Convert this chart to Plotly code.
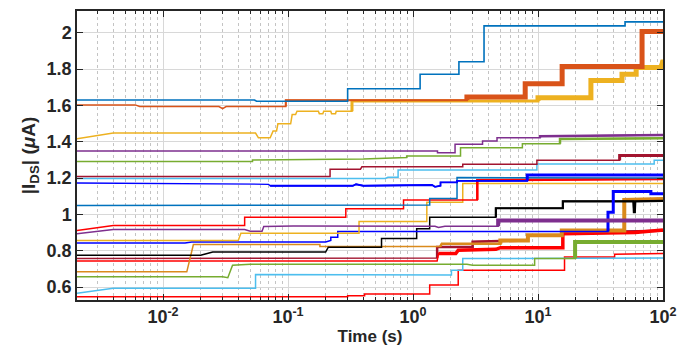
import plotly.graph_objects as go

# ---------------- data (time in s, |I_DS| in uA) ----------------
T0 = 0.00205
s01_t = [T0, 0.054, 0.056, 0.30, 0.30, 1.14, 1.14, 2.33, 2.33, 3.7, 3.7, 49.7, 49.7, 100]
s01_v = [1.630, 1.630, 1.623, 1.623, 1.692, 1.692, 1.772, 1.772, 1.841, 1.841, 2.038, 2.038, 2.060, 2.060]

s02_t = [T0, 0.006, 0.0065, 0.028, 0.030, 0.032, 0.096, 0.096, 2.7, 2.7, 7.9, 7.9, 15.6, 15.6, 68, 68, 100]
s02_v = [1.603, 1.603, 1.594, 1.594, 1.583, 1.594, 1.594, 1.628, 1.628, 1.647, 1.647, 1.720, 1.720, 1.814, 1.814, 2.007, 2.007]

s03_t = [T0, 0.004, 0.055, 0.058, 0.072, 0.076, 0.081, 0.083, 0.105, 0.108, 0.115, 0.118, 0.175, 0.178, 0.19,
         0.193, 0.22, 0.223, 0.24, 0.243, 0.325, 0.325, 10, 10, 26.5, 26.5, 47, 47, 61, 61, 96, 98, 100]
s03_v = [1.417, 1.448, 1.448, 1.422, 1.422, 1.459, 1.459, 1.499, 1.499, 1.550, 1.550, 1.568, 1.568, 1.555, 1.555,
         1.568, 1.568, 1.555, 1.555, 1.568, 1.568, 1.625, 1.625, 1.643, 1.643, 1.738, 1.738, 1.772, 1.772, 1.809, 1.809, 1.845, 1.845]

s04_t = [T0, 1.57, 1.57, 2.17, 2.17, 3.6, 3.6, 4.7, 4.7, 10.4, 10.4, 100]
s04_v = [1.349, 1.349, 1.340, 1.340, 1.386, 1.386, 1.404, 1.404, 1.422, 1.422, 1.431, 1.437]

s05_t = [T0, 0.052, 0.052, 0.4, 0.89, 0.89, 2.4, 2.4, 7.5, 7.5, 15, 15, 100]
s05_v = [1.291, 1.291, 1.300, 1.305, 1.313, 1.322, 1.322, 1.367, 1.367, 1.389, 1.389, 1.416, 1.420]

s06_t = [T0, 0.217, 0.217, 0.38, 0.39, 2.5, 2.5, 9.8, 9.8, 45, 45, 100]
s06_v = [1.209, 1.209, 1.249, 1.249, 1.262, 1.262, 1.277, 1.277, 1.298, 1.298, 1.325, 1.325]

s07_t = [T0, 0.6, 0.63, 0.76, 0.76, 9.8, 9.8, 85, 85, 100]
s07_v = [1.198, 1.198, 1.205, 1.205, 1.244, 1.244, 1.278, 1.278, 1.298, 1.298]

s08_t = [T0, 0.05, 0.07, 0.072, 0.33, 0.35, 0.40, 1.42, 1.5, 1.66, 1.66, 2.25, 2.25, 8.2, 8.2, 100]
s08_v = [1.173, 1.170, 1.166, 1.158, 1.158, 1.166, 1.158, 1.162, 1.152, 1.158, 1.176, 1.176, 1.185, 1.185, 1.217, 1.217]

s09_t = [T0, 1.36, 1.36, 2.25, 2.25, 100]
s09_v = [1.049, 1.052, 1.088, 1.088, 1.203, 1.200]

s10_t = [T0, 0.004, 0.045, 0.045, 0.29, 0.29, 0.84, 0.84, 3.27, 3.27, 100]
s10_v = [0.912, 0.939, 0.939, 0.985, 0.985, 1.032, 1.032, 1.080, 1.080, 1.188, 1.195]

s11_t = [T0, 0.004, 0.045, 0.05, 0.062, 0.064, 0.11, 1.5, 1.6, 1.8, 4.8, 4.8, 100]
s11_v = [0.894, 0.917, 0.917, 0.908, 0.908, 0.934, 0.937, 0.935, 0.928, 0.935, 0.935, 0.967, 0.967]

s12_t = [T0, 0.040, 0.042, 0.37, 0.37, 1.29, 1.29, 2.5, 2.5, 100]
s12_v = [0.857, 0.857, 0.897, 0.897, 0.961, 0.961, 1.067, 1.067, 1.171, 1.171]

s13_t = [T0, 0.015, 0.017, 0.20, 0.22, 0.22, 0.25, 0.25, 36.3, 36.3, 40, 40, 80, 80, 100]
s13_v = [0.843, 0.843, 0.848, 0.848, 0.857, 0.875, 0.875, 0.906, 0.906, 1.012, 1.012, 1.127, 1.127, 1.114, 1.114]

s14_t = [T0, 0.0155, 0.0175, 0.18, 0.18, 1.65, 1.7, 5.0, 5.0, 8.3, 8.3, 15.5, 15.5, 49, 49, 100]
s14_v = [0.684, 0.684, 0.834, 0.834, 0.823, 0.823, 0.839, 0.839, 0.857, 0.857, 0.885, 0.885, 0.912, 0.912, 1.080, 1.085]

s15_t = [T0, 0.020, 0.025, 0.20, 0.21, 0.56, 0.56, 1.07, 1.07, 1.36, 1.36, 4.6, 4.6, 15.8, 15.8, 58, 58.5, 59.5, 60, 100]
s15_v = [0.775, 0.775, 0.793, 0.793, 0.820, 0.820, 0.867, 0.867, 0.921, 0.921, 0.985, 0.985, 1.034, 1.034, 1.072, 1.072, 1.012, 1.012, 1.072, 1.075]

s16_t = [T0, 1.56, 1.56, 3.0, 3.0, 8.3, 8.3, 15.5, 15.5, 100]
s16_v = [0.757, 0.760, 0.821, 0.821, 0.850, 0.857, 0.885, 0.885, 0.900, 0.910]

s17_t = [T0, 1.56, 1.6, 2.2, 2.3, 4.6, 5.0, 15.8, 15.8, 60, 100]
s17_v = [0.744, 0.744, 0.785, 0.785, 0.803, 0.808, 0.817, 0.817, 0.894, 0.900, 0.915]

s18_t = [T0, 0.030, 0.033, 0.036, 0.05, 2.7, 3.0, 9.4, 9.4, 19.8, 19.8, 100]
s18_v = [0.657, 0.657, 0.652, 0.720, 0.726, 0.726, 0.720, 0.720, 0.757, 0.757, 0.848, 0.848]

s19_t = [T0, 0.004, 0.055, 0.055, 2.03, 2.03, 2.5, 2.5, 100]
s19_v = [0.566, 0.593, 0.593, 0.670, 0.666, 0.693, 0.693, 0.757, 0.760]

s20_t = [T0, 0.30, 0.30, 0.41, 0.41, 1.36, 1.36, 2.3, 2.3, 16.3, 16.3, 41, 41, 100]
s20_v = [0.547, 0.547, 0.553, 0.553, 0.562, 0.562, 0.611, 0.611, 0.693, 0.693, 0.766, 0.766, 0.781, 0.785]

x_tickvals = [0.01, 0.1, 1, 10, 100]
x_ticktext = ["10<sup>-2</sup>", "10<sup>-1</sup>", "10<sup>0</sup>", "10<sup>1</sup>", "10<sup>2</sup>"]
y_tickvals = [0.6, 0.8, 1.0, 1.2, 1.4, 1.6, 1.8, 2.0]
y_ticktext = ["0.6", "0.8", "1", "1.2", "1.4", "1.6", "1.8", "2"]

# ---------------- styles ----------------
C_BLUE = "#0072BD"; C_ORANGE = "#D95319"; C_YELLOW = "#EDB120"; C_PURPLE = "#7E2F8E"
C_GREEN = "#77AC30"; C_LBLUE = "#4DBEEE"; C_DRED = "#A2142F"; C_RED = "#FF0000"
C_PBLUE = "#0000FF"; C_BLACK = "#000000"; C_ORANGE2 = "#DA8A1C"

# (t, v, color, base width, [(thick-from time, thick width), ...])
series = [
    (s20_t, s20_v, C_RED, 1.5, []),
    (s19_t, s19_v, C_LBLUE, 1.5, []),
    (s18_t, s18_v, C_GREEN, 1.5, [(19.8, 4)]),
    (s16_t, s16_v, C_DRED, 1.5, [(1.56, 2.5)]),
    (s17_t, s17_v, C_RED, 1.5, [(1.6, 3.5)]),
    (s14_t, s14_v, C_ORANGE2, 1.5, [(1.65, 2.5), (5.0, 4)]),
    (s15_t, s15_v, C_BLACK, 1.5, [(4.6, 2.2)]),
    (s13_t, s13_v, C_PBLUE, 1.5, [(36.3, 3)]),
    (s12_t, s12_v, C_YELLOW, 1.5, []),
    (s11_t, s11_v, C_PURPLE, 1.5, [(4.8, 4)]),
    (s10_t, s10_v, C_RED, 1.5, [(3.27, 2.5)]),
    (s09_t, s09_v, C_BLUE, 1.5, []),
    (s08_t, s08_v, C_PBLUE, 1.3, [(0.072, 1.8), (8.2, 3)]),
    (s07_t, s07_v, C_LBLUE, 1.5, []),
    (s06_t, s06_v, C_DRED, 1.5, [(45, 3)]),
    (s05_t, s05_v, C_GREEN, 1.5, [(15, 2.5)]),
    (s04_t, s04_v, C_PURPLE, 1.5, [(10.4, 2.5)]),
    (s03_t, s03_v, C_YELLOW, 1.5, [(0.325, 3), (10, 5)]),
    (s02_t, s02_v, C_ORANGE, 1.5, [(0.096, 2), (2.7, 5)]),
    (s01_t, s01_v, C_BLUE, 1.6, []),
]

fig = go.Figure()
for t, v, col, w, thick in series:
    fig.add_trace(go.Scatter(x=t, y=v, mode="lines", line=dict(color=col, width=w),
                             hoverinfo="skip", showlegend=False))
    for thick_from, tw in thick:
        tt = [a for a in t if a >= thick_from]
        vv = [b for a, b in zip(t, v) if a >= thick_from]
        fig.add_trace(go.Scatter(x=tt, y=vv, mode="lines", line=dict(color=col, width=tw),
                                 hoverinfo="skip", showlegend=False))

minor_vals = [k * 10.0 ** d for d in range(-3, 2) for k in range(2, 10)]
minor_vals = [m for m in minor_vals if 0.00205 < m < 100]

AX = "#262626"
FONT = "Liberation Sans, Arial, sans-serif"
tick_font = dict(family=FONT, size=18, color=AX, weight="bold")
fig.update_layout(
    width=695, height=363,
    margin=dict(l=77, r=32, t=9, b=63),
    paper_bgcolor="white", plot_bgcolor="white",
    showlegend=False,
    xaxis=dict(
        type="log", range=[-2.688, 2],
        tickmode="array", tickvals=x_tickvals, ticktext=x_ticktext,
        ticks="inside", ticklen=6, tickwidth=1, tickcolor=AX,
        showline=True, linecolor=AX, linewidth=1.5, mirror="allticks",
        showgrid=True, gridcolor="#d8d8d8", gridwidth=1, zeroline=False,
        minor=dict(tickmode="array", tickvals=minor_vals, ticks="inside", ticklen=3,
                   tickcolor=AX, showgrid=True, gridcolor="#c4c4c4", griddash="dot", gridwidth=1),
        tickfont=tick_font,
        title=dict(text="Time (s)", font=dict(family=FONT, size=17, color=AX, weight="bold"), standoff=4),
    ),
    yaxis=dict(
        range=[0.529, 2.12],
        tickmode="array", tickvals=y_tickvals, ticktext=y_ticktext,
        ticks="inside", ticklen=6, tickwidth=1, tickcolor=AX,
        showline=True, linecolor=AX, linewidth=1.5, mirror="allticks",
        showgrid=True, gridcolor="#d8d8d8", gridwidth=1, zeroline=False,
        tickfont=tick_font,
        title=dict(text="|I<sub>DS</sub>| (<i>μ</i>A)",
                   font=dict(family=FONT, size=19, color=AX, weight="bold"),
                   standoff=6),
    ),
)

fig.write_html("out.html")
